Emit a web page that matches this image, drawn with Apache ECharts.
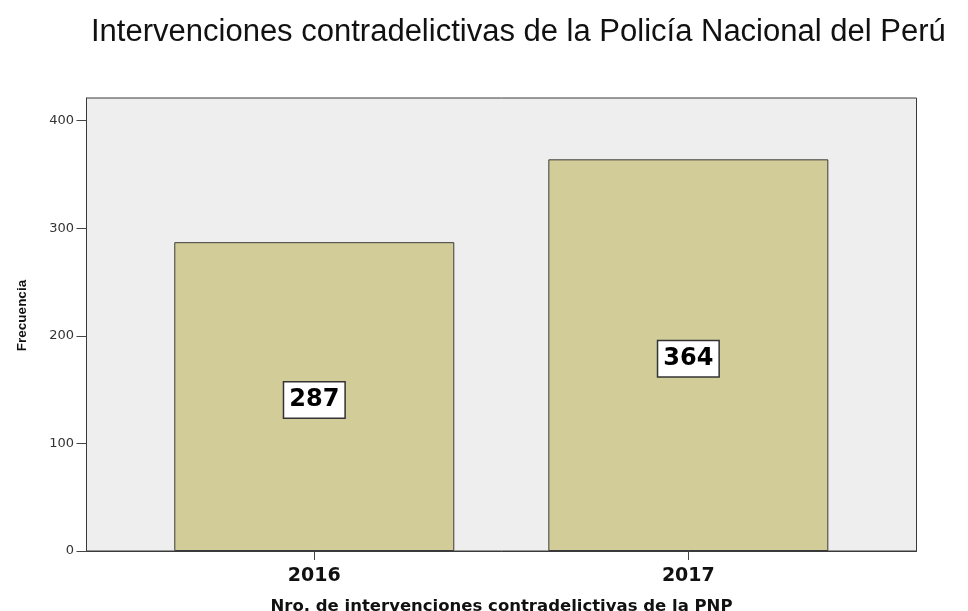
<!DOCTYPE html>
<html>
<head>
<meta charset="utf-8">
<script src="https://cdn.jsdelivr.net/npm/echarts@6/dist/echarts.min.js"></script>
<style>html,body{margin:0;padding:0;background:#fff}#c{width:968px;height:611px}</style>
</head>
<body>
<div id="c"></div>
<script>
const years = [2016, 2017];
const counts = [287, 364];
const yTicks = [0, 100, 200, 300, 400];
const titleText = 'Intervenciones contradelictivas de la Policía Nacional del Perú';
const xName = 'Nro. de intervenciones contradelictivas de la PNP';
const yName = 'Frecuencia';

const chart = echarts.init(document.getElementById('c'));
chart.setOption({
  animation: false,
  title: {
    text: titleText,
    left: 86, top: 12,
    textStyle: {fontFamily: 'Liberation Sans, Arial', fontSize: 31, fontWeight: 'normal', color: '#111'}
  },
  grid: {
    left: 86.5, top: 98, right: 51.5, bottom: 60,
    outerBoundsMode: 'none', containLabel: false,
    show: true, backgroundColor: '#eeeeee', borderColor: '#3a3a3a', borderWidth: 1
  },
  xAxis: {
    type: 'value',
    min: 2015.391, max: 2017.61,
    name: xName, nameLocation: 'middle', nameGap: 47,
    nameTextStyle: {fontFamily: 'DejaVu Sans', fontSize: 16.5, fontWeight: 'bold', color: '#111'},
    axisLine: {show: true, lineStyle: {color: '#3a3a3a', width: 1}},
    axisTick: {show: true, length: 9, customValues: years, lineStyle: {color: '#444'}},
    axisLabel: {customValues: years, fontFamily: 'DejaVu Sans', fontSize: 19, fontWeight: 'bold', color: '#111', margin: 16, formatter: v => String(v)},
    splitLine: {show: false}
  },
  yAxis: {
    type: 'value', min: 0, max: 421, interval: 100,
    name: yName, nameLocation: 'middle', nameGap: 57, nameRotate: 90,
    nameTextStyle: {fontFamily: 'Liberation Sans, Arial', fontSize: 13.5, fontWeight: 'bold', color: '#111', padding: [0, 0, 0, 18]},
    axisLine: {show: true, lineStyle: {color: '#3a3a3a', width: 1}},
    axisTick: {show: true, length: 10, lineStyle: {color: '#444'}},
    axisLabel: {fontFamily: 'DejaVu Sans', fontSize: 13, color: '#333', margin: 12.5, showMaxLabel: false,
      formatter: v => yTicks.includes(v) ? String(v) : ''},
    splitLine: {show: false}
  },
  series: [{
    type: 'bar',
    barWidth: 280,
    data: years.map((y, i) => [y, counts[i]]),
    itemStyle: {color: '#d2cd98', borderColor: '#3a3a3a', borderWidth: 1},
    label: {
      show: true, position: 'inside', offset: [0, 3.5],
      formatter: p => String(p.value[1]),
      fontFamily: 'DejaVu Sans', fontSize: 24, fontWeight: 'bold', color: '#000',
      backgroundColor: '#ffffff', borderColor: '#333', borderWidth: 1.5,
      padding: [6, 5, 5, 5]
    }
  }]
});
</script>
</body>
</html>
